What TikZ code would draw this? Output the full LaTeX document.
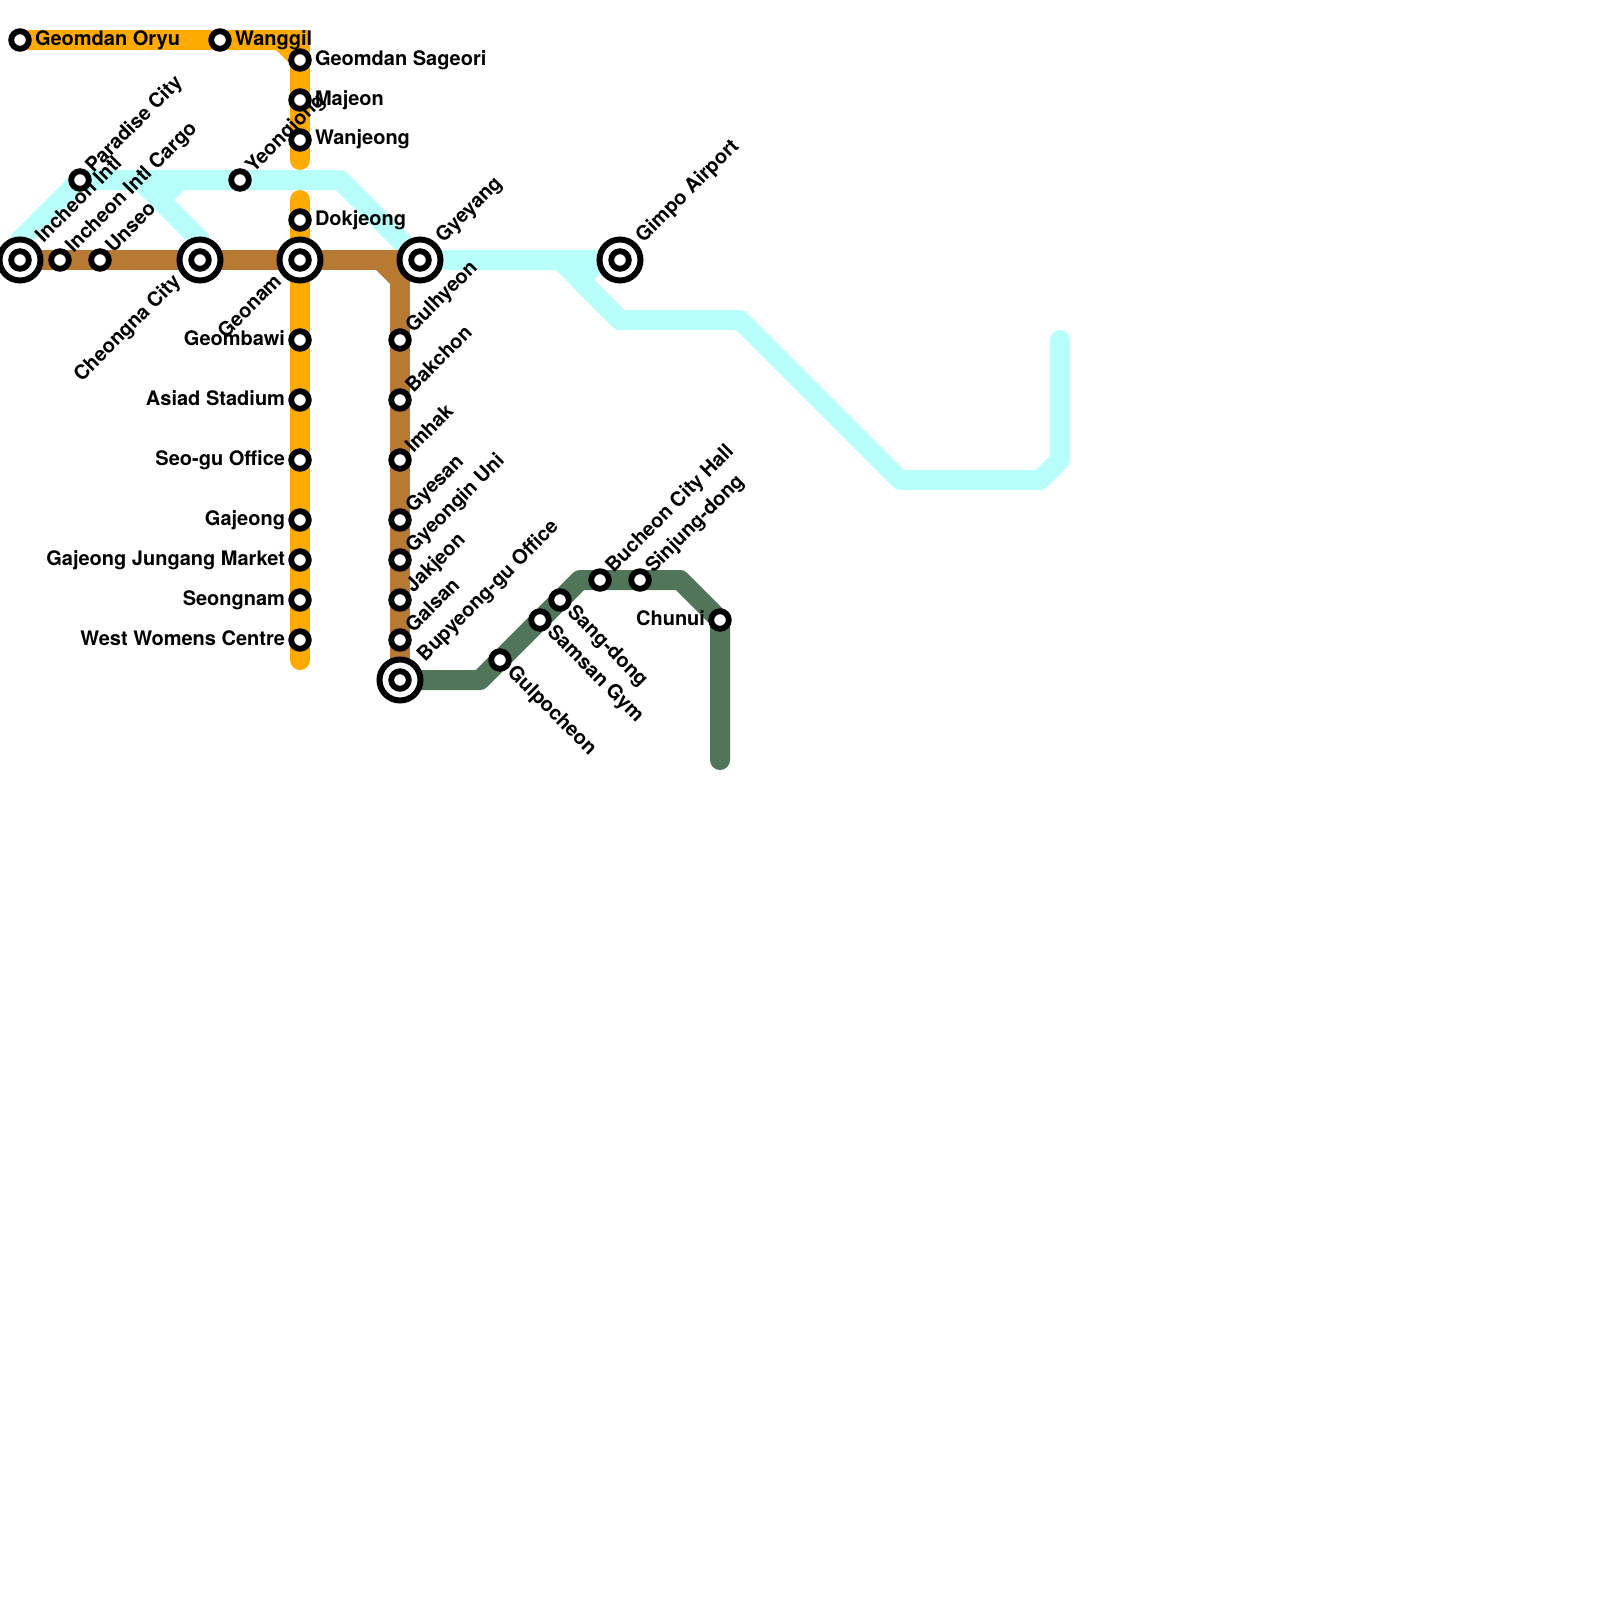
\documentclass[tikz,border=0pt]{standalone}
\usepackage{fontspec}
\setmainfont{TeX Gyre Heros}
\definecolor{gold}{HTML}{FFAA00}
\definecolor{brownline}{HTML}{B87A33}
\definecolor{cyanline}{HTML}{B8FFFC}
\definecolor{greenline}{HTML}{507558}
\tikzset{
  metro/.style={line width=20pt,line cap=round,line join=round},
  corner/.style={line width=20pt,line cap=butt,line join=miter},
  stn/.style={circle,draw=black,fill=white,line width=5.8pt,minimum size=17.6pt,inner sep=0pt,outer sep=0pt},
  bigstn/.style={circle,draw=black,fill=white,line width=6pt,minimum size=41pt,inner sep=0pt,outer sep=0pt},
  lab/.style={font=\fontsize{20}{22}\selectfont\bfseries,text=black,inner sep=0pt,outer sep=0pt,text height=14pt,text depth=4pt},
  lr/.style={lab,anchor=west},
  ll/.style={lab,anchor=east},
  lur/.style={lab,anchor=west,rotate=45},
  ldr/.style={lab,anchor=west,rotate=-45},
  ldl/.style={lab,anchor=east,rotate=45}
}
\begin{document}
\begin{tikzpicture}[x=1pt,y=-1pt]
\useasboundingbox (0,0) rectangle (1600,1600);
% coordinates
\coordinate (gA) at (20,40);
\coordinate (gB) at (300,40);
\coordinate (gC) at (300,160);
\coordinate (gD) at (300,200);
\coordinate (gE) at (300,660);
\coordinate (bA) at (20,260);
\coordinate (bB) at (400,260);
\coordinate (bC) at (400,680);
\coordinate (cA) at (20,260);
\coordinate (cB) at (20,240);
\coordinate (cC) at (80,180);
\coordinate (cD) at (340,180);
\coordinate (cE) at (420,260);
\coordinate (cF) at (620,260);
\coordinate (cG) at (200,260);
\coordinate (cH) at (200,240);
\coordinate (cI) at (160,200);
\coordinate (cJ) at (180,180);
\coordinate (cT) at (140,180);
\coordinate (cK) at (600,260);
\coordinate (cL) at (580,280);
\coordinate (cM) at (560,260);
\coordinate (cN) at (620,320);
\coordinate (cO) at (740,320);
\coordinate (cP) at (900,480);
\coordinate (cQ) at (1040,480);
\coordinate (cR) at (1060,460);
\coordinate (cS) at (1060,340);
\coordinate (nA) at (400,680);
\coordinate (nB) at (480,680);
\coordinate (nC) at (580,580);
\coordinate (nD) at (680,580);
\coordinate (nE) at (720,620);
\coordinate (nF) at (720,760);
% cyan
\draw[metro,cyanline] (cA) -- (cB) -- (cC) -- (cD) -- (cE) -- (cF);
\draw[metro,cyanline] (cG) -- (cH) -- (cT);
\draw[metro,cyanline] (cI) -- (cJ);
\draw[metro,cyanline] (cF) -- (cK) -- (cL) -- (cN);
\draw[metro,cyanline] (cM) -- (cN) -- (cO) -- (cP) -- (cQ) -- (cR) -- (cS);
% gold
\draw[corner,gold] (gA) -- (gB) -- (gC);
\draw[metro,gold,line join=miter] (gB) -- (gC);
\fill[gold] (276,50) -- (291,50) -- (291,65) -- cycle;
\draw[metro,gold] (gD) -- (gE);
% brown
\draw[corner,brownline] (bA) -- (bB) -- (bC);
\fill[brownline] (376,270) -- (391,270) -- (391,285) -- cycle;
% green
\draw[metro,greenline] (nA) -- (nB) -- (nC) -- (nD) -- (nE) -- (nF);
% stations
\node[stn] (s01) at (20,40) {};
\node[stn] (s02) at (220,40) {};
\node[stn] (s03) at (300,60) {};
\node[stn] (s04) at (300,100) {};
\node[stn] (s05) at (300,140) {};
\node[stn] (s06) at (300,220) {};
\node[bigstn] (s07o) at (300,260) {};
\node[stn] (s07) at (300,260) {};
\node[stn] (s08) at (300,340) {};
\node[stn] (s09) at (300,400) {};
\node[stn] (s10) at (300,460) {};
\node[stn] (s11) at (300,520) {};
\node[stn] (s12) at (300,560) {};
\node[stn] (s13) at (300,600) {};
\node[stn] (s14) at (300,640) {};
\node[stn] (s15) at (80,180) {};
\node[stn] (s16) at (240,180) {};
\node[bigstn] (s17o) at (20,260) {};
\node[stn] (s17) at (20,260) {};
\node[stn] (s18) at (60,260) {};
\node[stn] (s19) at (100,260) {};
\node[bigstn] (s20o) at (200,260) {};
\node[stn] (s20) at (200,260) {};
\node[bigstn] (s21o) at (420,260) {};
\node[stn] (s21) at (420,260) {};
\node[bigstn] (s22o) at (620,260) {};
\node[stn] (s22) at (620,260) {};
\node[stn] (s23) at (400,340) {};
\node[stn] (s24) at (400,400) {};
\node[stn] (s25) at (400,460) {};
\node[stn] (s26) at (400,520) {};
\node[stn] (s27) at (400,560) {};
\node[stn] (s28) at (400,600) {};
\node[stn] (s29) at (400,640) {};
\node[bigstn] (s30o) at (400,680) {};
\node[stn] (s30) at (400,680) {};
\node[stn] (s31) at (500,660) {};
\node[stn] (s32) at (540,620) {};
\node[stn] (s33) at (560,600) {};
\node[stn] (s34) at (600,580) {};
\node[stn] (s35) at (640,580) {};
\node[stn] (s36) at (720,620) {};
% labels
\node[lr] (t01) at (35,40.5) {Geomdan Oryu};
\node[lr] (t02) at (235,40.5) {Wanggil};
\node[lr] (t03) at (315,60.5) {Geomdan Sageori};
\node[lr] (t04) at (315,100.5) {Majeon};
\node[lr] (t05) at (315,140) {Wanjeong};
\node[lr] (t06) at (315,220) {Dokjeong};
\node[ldl] (t07) at (279,279) {Geonam};
\node[ll] (t08) at (285,340) {Geombawi};
\node[ll] (t09) at (285,400) {Asiad Stadium};
\node[ll] (t10) at (285,460) {Seo-gu Office};
\node[ll] (t11) at (285,520) {Gajeong};
\node[ll] (t12) at (285,560) {Gajeong Jungang Market};
\node[ll] (t13) at (285,600) {Seongnam};
\node[ll] (t14) at (285,640) {West Womens Centre};
\node[lur] (t15) at (90,170) {Paradise City};
\node[lur] (t16) at (250,170) {Yeongjong};
\node[lur] (t17) at (40,240) {Incheon Intl};
\node[lur] (t18) at (70,250) {Incheon Intl Cargo};
\node[lur] (t19) at (110,250) {Unseo};
\node[ldl] (t20) at (178,279) {Cheongna City};
\node[lur] (t21) at (440,240) {Gyeyang};
\node[lur] (t22) at (640,240) {Gimpo Airport};
\node[lur] (t23) at (410,330) {Gulhyeon};
\node[lur] (t24) at (410,390) {Bakchon};
\node[lur] (t25) at (410,450) {Imhak};
\node[lur] (t26) at (410,510) {Gyesan};
\node[lur] (t27) at (410,550) {Gyeongin Uni};
\node[lur] (t28) at (410,590) {Jakjeon};
\node[lur] (t29) at (410,630) {Galsan};
\node[lur] (t30) at (421.5,658.5) {Bupyeong-gu Office};
\node[ldr] (t31) at (510,670) {Gulpocheon};
\node[ldr] (t32) at (550,630) {Samsan Gym};
\node[ldr] (t33) at (570,610) {Sang-dong};
\node[lur] (t34) at (610,570) {Bucheon City Hall};
\node[lur] (t35) at (650,570) {Sinjung-dong};
\node[ll] (t36) at (705,620) {Chunui};
\end{tikzpicture}
\end{document}
